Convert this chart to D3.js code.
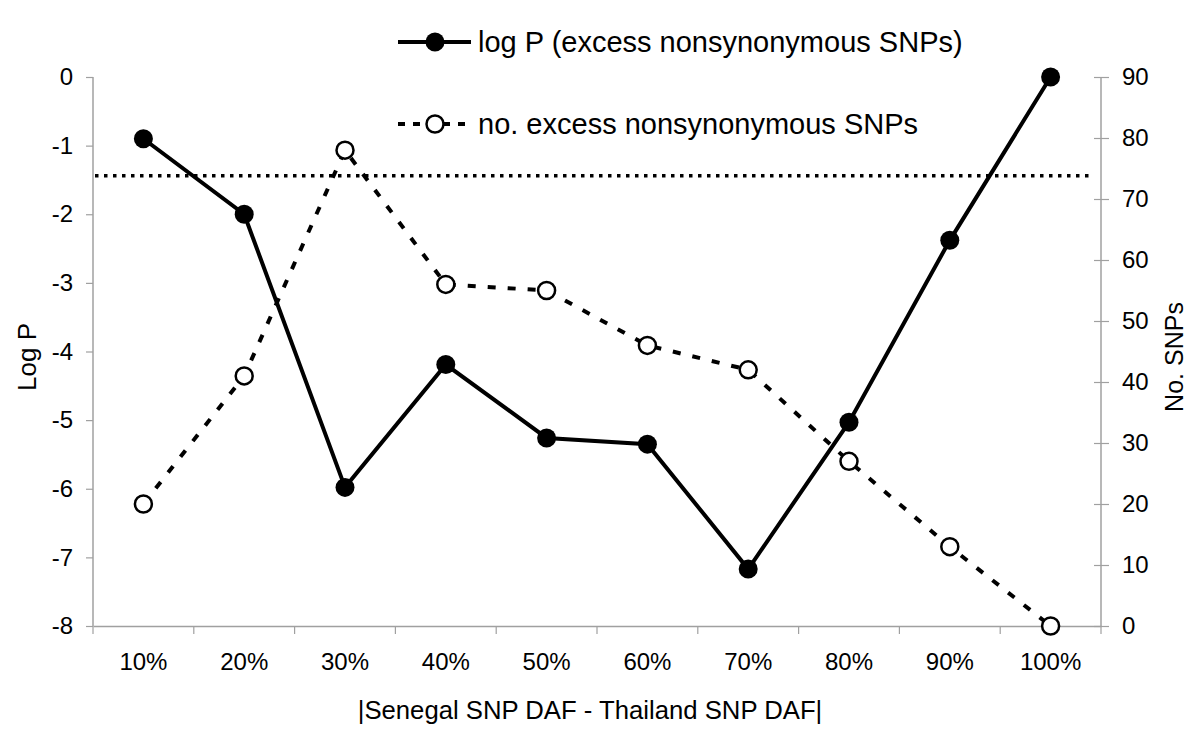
<!DOCTYPE html>
<html><head><meta charset="utf-8">
<script src="https://cdn.jsdelivr.net/npm/d3@7"></script>
<style>body{margin:0;background:#fff}svg{display:block}text{font-family:"Liberation Sans",Arial,sans-serif;fill:#000}</style>
</head><body><svg id="c" width="1200" height="742"></svg>
<script>
const categories = ["10%","20%","30%","40%","50%","60%","70%","80%","90%","100%"];
const logP = [-0.9,-2.0,-5.98,-4.19,-5.26,-5.35,-7.17,-5.03,-2.38,0];
const noSNPs = [20,41,78,56,55,46,42,27,13,0];
const thresholdLogP = -1.44;
const leftTicks = [0,-1,-2,-3,-4,-5,-6,-7,-8];
const rightTicks = [0,10,20,30,40,50,60,70,80,90];

const svg = d3.select("#c");
const L = 93, R = 1101, T = 77, B = 626;
const x = d3.scaleBand().domain(categories).range([L,R]);
const yL = d3.scaleLinear().domain([-8,0]).range([B,T]);
const yR = d3.scaleLinear().domain([0,90]).range([B,T]);
const axisColor = "#a0a0a0";

// left axis
const gl = svg.append("g").attr("transform",`translate(${L},0)`)
  .call(d3.axisLeft(yL).tickValues(leftTicks).tickSize(7).tickPadding(13).tickFormat(d=>String(d)));
// right axis
const gr = svg.append("g").attr("transform",`translate(${R},0)`)
  .call(d3.axisRight(yR).tickValues(rightTicks).tickSize(8).tickPadding(13).tickFormat(d=>String(d)));
gr.selectAll(".tick line").attr("x1",-7);
// bottom axis
const gb = svg.append("g").attr("transform",`translate(0,${B})`)
  .call(d3.axisBottom(x).tickSize(0).tickPadding(27));
gb.selectAll(".bnd").data(d3.range(categories.length+1)).enter().append("line")
  .attr("x1",i=>L+i*x.step()).attr("x2",i=>L+i*x.step()).attr("y1",0).attr("y2",8)
  .attr("stroke",axisColor).attr("stroke-width",1.2);

[gl,gr,gb].forEach(g=>{
  g.selectAll(".domain").attr("stroke",axisColor).attr("stroke-width",1.5);
  g.selectAll(".tick line").attr("stroke",axisColor).attr("stroke-width",1.2);
  g.selectAll("text").attr("font-size",24).attr("font-family",'"Liberation Sans",Arial,sans-serif').attr("fill","#000");
});
gl.select(".domain").attr("d",`M0,${T}V${B}`);
gr.select(".domain").attr("d",`M0,${T}V${B}`);

// axis titles
svg.append("text").attr("transform",`translate(36,357) rotate(-90)`).attr("text-anchor","middle")
  .attr("font-size",26).text("Log P");
svg.append("text").attr("transform",`translate(1183,357) rotate(-90)`).attr("text-anchor","middle")
  .attr("font-size",25).text("No. SNPs");
svg.append("text").attr("x",590).attr("y",719).attr("text-anchor","middle")
  .attr("font-size",25.7).text("|Senegal SNP DAF - Thailand SNP DAF|");

const cx = (d,i)=>x(categories[i])+x.bandwidth()/2;

// dashed series
svg.append("path").datum(noSNPs)
  .attr("d",d3.line().x(cx).y(d=>yR(d)))
  .attr("fill","none").attr("stroke","#000").attr("stroke-width",4).attr("stroke-dasharray","8,12");
// threshold dotted line
svg.append("line").attr("x1",L+2).attr("x2",R-8).attr("y1",yL(thresholdLogP)).attr("y2",yL(thresholdLogP))
  .attr("stroke","#000").attr("stroke-width",3.5).attr("stroke-dasharray","3.5,5.5");
// solid series
svg.append("path").datum(logP)
  .attr("d",d3.line().x(cx).y(d=>yL(d)))
  .attr("fill","none").attr("stroke","#000").attr("stroke-width",4);

svg.selectAll(".open").data(noSNPs).enter().append("circle")
  .attr("cx",cx).attr("cy",d=>yR(d)).attr("r",8.5)
  .attr("fill","#fff").attr("stroke","#000").attr("stroke-width",2.5);
svg.selectAll(".filled").data(logP).enter().append("circle")
  .attr("cx",cx).attr("cy",d=>yL(d)).attr("r",9.5).attr("fill","#000");

// legend
const lg = svg.append("g");
lg.append("line").attr("x1",398).attr("x2",471).attr("y1",42).attr("y2",42).attr("stroke","#000").attr("stroke-width",4);
lg.append("circle").attr("cx",435).attr("cy",42).attr("r",9.5).attr("fill","#000");
lg.append("text").attr("x",478).attr("y",52).attr("font-size",29).text("log P (excess nonsynonymous SNPs)");
lg.append("line").attr("x1",398).attr("x2",471).attr("y1",124).attr("y2",124).attr("stroke","#000").attr("stroke-width",4).attr("stroke-dasharray","7,8");
lg.append("circle").attr("cx",435).attr("cy",124).attr("r",8.5).attr("fill","#fff").attr("stroke","#000").attr("stroke-width",2.5);
lg.append("text").attr("x",478).attr("y",134).attr("font-size",29).text("no. excess nonsynonymous SNPs");
</script></body></html>
